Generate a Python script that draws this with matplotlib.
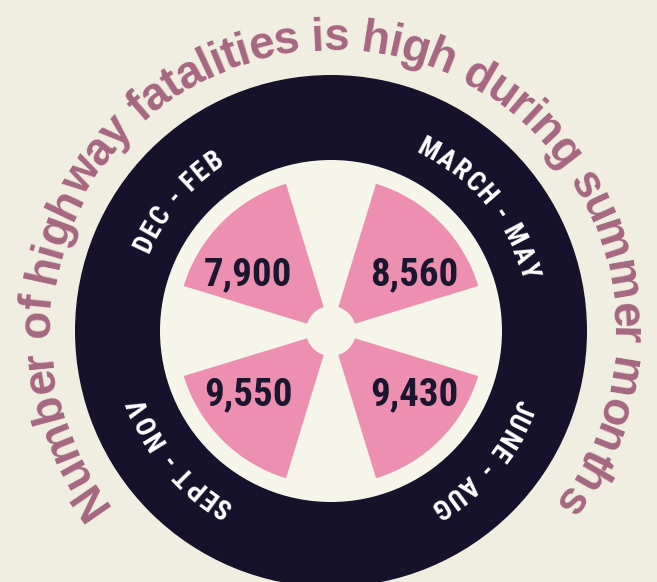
import numpy as np
import matplotlib
matplotlib.use("Agg")
import matplotlib.pyplot as plt
from matplotlib.patches import Circle, Wedge
from matplotlib.font_manager import FontProperties, fontManager

# data
seasons = ["DEC - FEB", "MARCH - MAY", "JUNE - AUG", "SEPT - NOV"]
fatalities = [7900, 8560, 9430, 9550]
title = "Number of highway fatalities is high during summer months"

# colours
BG = "#f0eee0"
INNER = "#f6f5ea"
DARK = "#17122b"
PINK = "#ec8fb0"
MAUVE = "#a66680"
TEXT_DARK = "#1b1630"

W, H = 657, 582
fig = plt.figure(figsize=(W / 100, H / 100), dpi=100, facecolor=BG)
ax = fig.add_axes([0, 0, 1, 1])
ax.set_xlim(0, W)
ax.set_ylim(0, H)
ax.set_aspect("equal")
ax.axis("off")

cx, cy = 331, H - 331
renderer = fig.canvas.get_renderer()

# pick a condensed face if one is installed
names = {f.name for f in fontManager.ttflist}
cond = [n for n in ["Roboto Condensed", "Open Sans Condensed", "Liberation Sans Narrow",
                    "DejaVu Sans Condensed"] if n in names]
narrow = cond[:1] + ["DejaVu Sans"]
stretch = "normal" if cond else "condensed"


def curved_text(text, radius, center_deg, prop, color, tracking=0.0):
    # draws text clockwise along a circle, letter tops facing outward
    def w(s):
        return renderer.get_text_width_height_descent(s + "H", prop, ismath=False)[0]
    pens = np.array([w(text[:i]) for i in range(len(text) + 1)])
    adv = np.diff(pens) + tracking
    total = adv.sum() - tracking
    pos = np.cumsum(adv) - adv / 2
    for ch, s in zip(text, pos):
        if ch == " ":
            continue
        a = np.radians(center_deg) + (total / 2 - s) / radius
        ax.text(cx + radius * np.cos(a), cy + radius * np.sin(a), ch,
                fontproperties=prop, color=color, ha="center", va="baseline",
                rotation=np.degrees(a) - 90, rotation_mode="anchor")


# rings
ax.add_patch(Circle((cx, cy), 256, color=DARK, lw=0))
ax.add_patch(Circle((cx, cy), 171, color=INNER, lw=0))

label_prop = FontProperties(family=narrow, weight="bold", stretch=stretch, size=19.5)
value_prop = FontProperties(family=narrow, weight="bold", stretch=stretch, size=28)
label_deg = [140, 40, -40, 220]
for i, (season, value) in enumerate(zip(seasons, fatalities)):
    mid = 135 - 90 * i
    ax.add_patch(Wedge((cx, cy), 154, mid - 28, mid + 28, color=PINK, lw=0))
    sx = np.sign(np.cos(np.radians(mid)))
    sy = np.sign(np.sin(np.radians(mid)))
    ax.text(cx + 83 * sx, cy + 60 * sy - 14, f"{value:,}", ha="center", va="baseline",
            fontproperties=value_prop, color=TEXT_DARK)
    curved_text(season, 198, label_deg[i], label_prop, "white", tracking=1.5)

ax.add_patch(Circle((cx, cy), 25, color=INNER, lw=0))

title_prop = FontProperties(family="Liberation Sans", weight="bold", size=33)
curved_text(title, 281, 90, title_prop, MAUVE, tracking=-1.0)

fig.savefig("out.png", dpi=100, facecolor=BG)
